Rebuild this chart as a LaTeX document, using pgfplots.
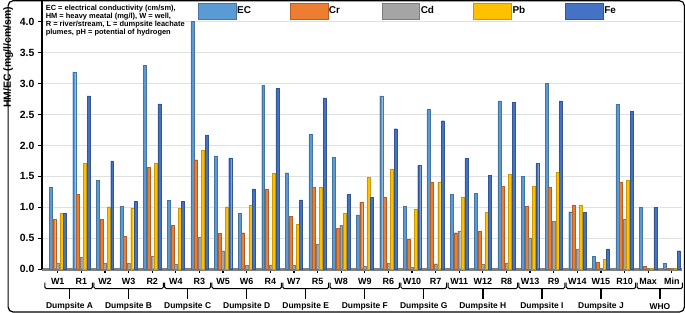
\documentclass[border=0pt]{standalone}
\usepackage{pgfplots}
\pgfplotsset{compat=1.18}
\usepackage{pgfplotstable}
\usepackage{fontspec}
\setmainfont{Liberation Sans}
\definecolor{cEC}{HTML}{5B9BD5}
\definecolor{cCr}{HTML}{ED7D31}
\definecolor{cCd}{HTML}{A5A5A5}
\definecolor{cPb}{HTML}{FFC000}
\definecolor{cFe}{HTML}{4472C4}

\pgfplotstableread{
x  EC   Cr   Cd    Pb   Fe
0  1.32 0.81 0.10  0.90 0.90
1  3.19 1.21 0.19  1.71 2.80
2  1.44 0.81 0.10  1.01 1.75
3  1.02 0.53 0.10  0.99 1.10
4  3.29 1.65 0.21  1.72 2.67
5  1.11 0.71 0.08  0.98 1.10
6  4.00 1.77 0.52  1.92 2.17
7  1.83 0.58 0.30  1.01 1.80
8  0.90 0.59 0.06  1.03 1.30
9  2.97 1.30 0.07  1.55 2.92
10 1.56 0.86 0.07  0.73 1.12
11 2.18 1.33 0.41  1.33 2.77
12 1.81 0.66 0.71  0.90 1.21
13 0.88 1.09 0.05  1.48 1.16
14 2.80 1.17 0.10  1.62 2.27
15 1.02 0.49 0.04  0.97 1.68
16 2.58 1.40 0.09  1.40 2.40
17 1.21 0.59 0.62  1.17 1.79
18 1.23 0.61 0.08  0.92 1.52
19 2.72 1.34 0.10  1.53 2.70
20 1.50 1.02 0.51  1.34 1.71
21 3.00 1.33 0.77  1.57 2.72
22 0.93 1.04 0.33  1.04 0.92
23 0.21 0.12 0.02  0.16 0.33
24 2.66 1.41 0.81  1.44 2.55
25 1.00 0.05 0.003 0.01 1.00
26 0.10 0.02 0.003 0.01 0.30
}\datatable

\newcommand{\grp}[4]{%
  \draw[line width=1pt, rounded corners=1.5pt]
    ([yshift=-13.5pt]axis cs:#1,0) -- ([yshift=-19.5pt]axis cs:#1,0)
    -- ([yshift=-19.5pt]axis cs:#2,0) -- ([yshift=-13.5pt]axis cs:#2,0);
  \draw[line width=1.3pt] ([yshift=-19.5pt]axis cs:#3,0) -- ([yshift=-30pt]axis cs:#3,0);
  \node[font=\bfseries\fontsize{8.5}{10}\selectfont, inner sep=0pt] at ([yshift=-37.5pt]axis cs:#3,0) {#4};
}

\begin{document}
\begin{tikzpicture}
\begin{axis}[
  scale only axis, width=644pt, height=268pt,
  xmin=-0.67, xmax=26.45, ymin=0, ymax=4.305,
  clip=false,
  ybar=0.6pt, bar width=3pt,
  axis line style={draw=none},
  tick pos=left, tick align=outside,
  major tick length=4pt,
  every tick/.style={black, line width=1.2pt},
  xtick={0,...,26},
  xticklabels={W1,R1,W2,W3,R2,W4,R3,W5,W6,R4,W7,R5,W8,W9,R6,W10,R7,W11,W12,R8,W13,R9,W14,W15,R10,Max,Min},
  xticklabel style={font=\bfseries\fontsize{9}{10}\selectfont, yshift=-1.5pt},
  ytick={0,0.5,1,1.5,2,2.5,3,3.5,4},
  /pgf/number format/assume math mode=true,
  yticklabel style={font=\bfseries\fontsize{10.5}{12}\selectfont, /pgf/number format/.cd, fixed, fixed zerofill, precision=1},
  ymajorgrids, grid style={line width=1pt, black!12},
  ylabel={HM/EC (mg/l/cm/sm)},
  ylabel style={font=\bfseries\fontsize{10.5}{13}\selectfont, at={(ticklabel cs:0.795)}},
  legend style={at={(rel axis cs:0,1)}, anchor=north west, xshift=157pt, yshift=0pt,
    draw=none, fill=none, inner sep=0pt, outer sep=0pt,
    font=\bfseries\fontsize{10}{12}\selectfont, legend columns=5,
    /tikz/every even column/.append style={column sep=0pt},
    nodes={inner sep=1pt}},
  legend image code/.code={\fill[#1] (0pt,-8pt) rectangle (38pt,8pt);},
]
\fill[black!50] ([yshift=-1.5pt]rel axis cs:0,0) rectangle ([yshift=1.5pt]rel axis cs:1,0);
\addplot[fill=cEC, draw=cEC!75!black, line width=0.3pt] table[x=x,y=EC]{\datatable};
\addlegendentry{\makebox[52pt][l]{EC}}
\addplot[fill=cCr, draw=cCr!75!black, line width=0.3pt] table[x=x,y=Cr]{\datatable};
\addlegendentry{\makebox[52pt][l]{Cr}}
\addplot[fill=cCd, draw=cCd!75!black, line width=0.3pt] table[x=x,y=Cd]{\datatable};
\addlegendentry{\makebox[52pt][l]{Cd}}
\addplot[fill=cPb, draw=cPb!80!black, line width=0.3pt] table[x=x,y=Pb]{\datatable};
\addlegendentry{\makebox[52pt][l]{Pb}}
\addplot[fill=cFe, draw=cFe!75!black, line width=0.3pt] table[x=x,y=Fe]{\datatable};
\addlegendentry{\makebox[52pt][l]{Fe}}

\draw[line width=1.5pt] (rel axis cs:0,0) -- ([yshift=2pt]rel axis cs:0,1);
\node[anchor=north west, align=left, inner sep=0pt, font=\bfseries\fontsize{7.5}{8.2}\selectfont]
  at ([xshift=3.7pt, yshift=-2pt]rel axis cs:0,1)
  {EC = electrical conductivity (cm/sm),\\HM = heavy meatal (mg/l), W = well,\\R = river/stream, L = dumpsite leachate\\plumes, pH = potential of hydrogen};

\grp{-0.55}{1.47}{0.5}{Dumpsite A}
\grp{1.53}{4.47}{3}{Dumpsite B}
\grp{4.53}{6.47}{5.5}{Dumpsite C}
\grp{6.53}{9.47}{8}{Dumpsite D}
\grp{9.53}{11.47}{10.5}{Dumpsite E}
\grp{11.53}{14.47}{13}{Dumpsite F}
\grp{14.53}{16.47}{15.5}{Dumpsite G}
\grp{16.53}{19.47}{18}{Dumpsite H}
\grp{19.53}{21.47}{20.5}{Dumpsite I}
\grp{21.53}{24.47}{23}{Dumpsite J}
\grp{24.53}{26.45}{25.5}{WHO}

\draw[line width=1.2pt, rounded corners=5pt]
  ([xshift=-34pt, yshift=-43pt]rel axis cs:0,0) rectangle ([xshift=2pt, yshift=2pt]rel axis cs:1,1);
\end{axis}
\end{tikzpicture}
\end{document}
